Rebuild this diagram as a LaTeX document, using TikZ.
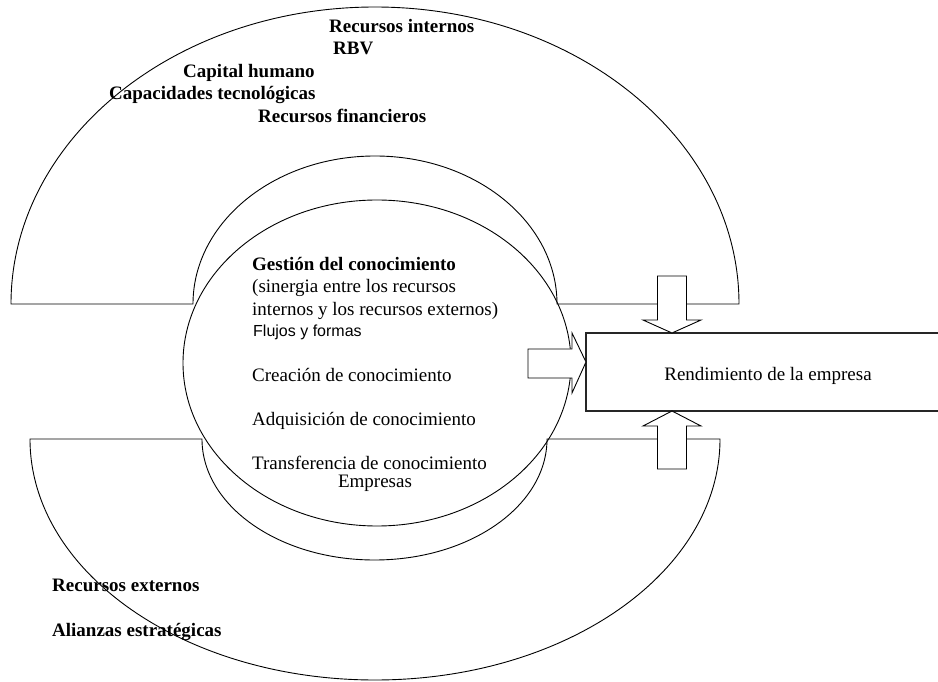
\documentclass[tikz,border=0pt]{standalone}
\usepackage{fontspec}
\setmainfont{Liberation Serif}
\newfontfamily\arialf{Liberation Sans}
\usetikzlibrary{shapes.geometric}
\begin{document}
\begin{tikzpicture}[x=1pt,y=1pt,
  shapeline/.style={draw=black, line width=0.9pt},
  lbl/.style={inner sep=0pt, anchor=base west, font=\fontsize{19}{22}\selectfont},
  blbl/.style={inner sep=0pt, anchor=base west, font=\fontsize{19}{22}\selectfont\bfseries},
  slbl/.style={inner sep=0pt, anchor=base west, font=\arialf\fontsize{16}{19}\selectfont},
  blockarrow/.style={draw=black, line width=0.9pt, fill=white, line join=miter}]
\useasboundingbox (0,0) rectangle (938,681);
% upper arch (internal resources)
\draw[shapeline] (11,377) arc[start angle=180,end angle=0,x radius=364,y radius=297]
  -- (557,377) arc[start angle=0,end angle=180,x radius=182,y radius=148] -- cycle;
% lower arch (external resources)
\draw[shapeline] (30,242) -- (202,242) arc[start angle=180,end angle=360,x radius=172.5,y radius=121]
  -- (720,242) arc[start angle=0,end angle=-180,x radius=345,y radius=241] -- cycle;
% central ellipse
\node[ellipse, shapeline, minimum width=388pt, minimum height=326pt, inner sep=0pt, outer sep=0pt] (gc) at (377,318) {};
% texts of upper arch
\node[blbl] (t1) at (329,648) {Recursos internos};
\node[blbl] (t2) at (333,626) {RBV};
\node[blbl] (t3) at (183,603) {Capital humano};
\node[blbl] (t4) at (109,581) {Capacidades tecnológicas};
\node[blbl] (t5) at (258,558) {Recursos financieros};
% texts of ellipse
\node[blbl] (g1) at (252,410) {Gestión del conocimiento};
\node[lbl] (g2) at (252,388) {(sinergia entre los recursos};
\node[lbl] (g3) at (252,365) {internos y los recursos externos)};
\node[slbl] (g4) at (253,344) {Flujos y formas};
\node[lbl] (g5) at (252,299) {Creación de conocimiento};
\node[lbl] (g6) at (252,255) {Adquisición de conocimiento};
\node[lbl] (g7) at (252,211) {Transferencia de conocimiento};
\node[lbl, anchor=base] (g8) at (375,193) {Empresas};
% texts of lower arch
\node[blbl] (e1) at (52,89) {Recursos externos};
\node[blbl] (e2) at (52,45) {Alianzas estratégicas};
% performance box
\node[draw=black!85, line width=1.2pt, minimum width=364pt, minimum height=78pt, inner sep=0pt, outer sep=0pt, anchor=south west] (rend) at (586,270) {};
\node[lbl, anchor=base] (rt) at (768,300) {Rendimiento de la empresa};
% block arrows
\coordinate (ax) at (672,0);
\coordinate (ay) at (0,319);
\draw[blockarrow] (ax |- rend.north) -- ++(-29,13) -- ++(14.5,0) -- ++(0,44) -- ++(29,0) -- ++(0,-44) -- ++(14.5,0) -- cycle;
\draw[blockarrow] (ax |- rend.south) -- ++(-29,-15) -- ++(14.5,0) -- ++(0,-43) -- ++(29,0) -- ++(0,43) -- ++(14.5,0) -- cycle;
\draw[blockarrow] (rend.west |- ay) -- ++(-14,29) -- ++(0,-16) -- ++(-44,0) -- ++(0,-29) -- ++(44,0) -- ++(0,-15) -- cycle;
\end{tikzpicture}
\end{document}
